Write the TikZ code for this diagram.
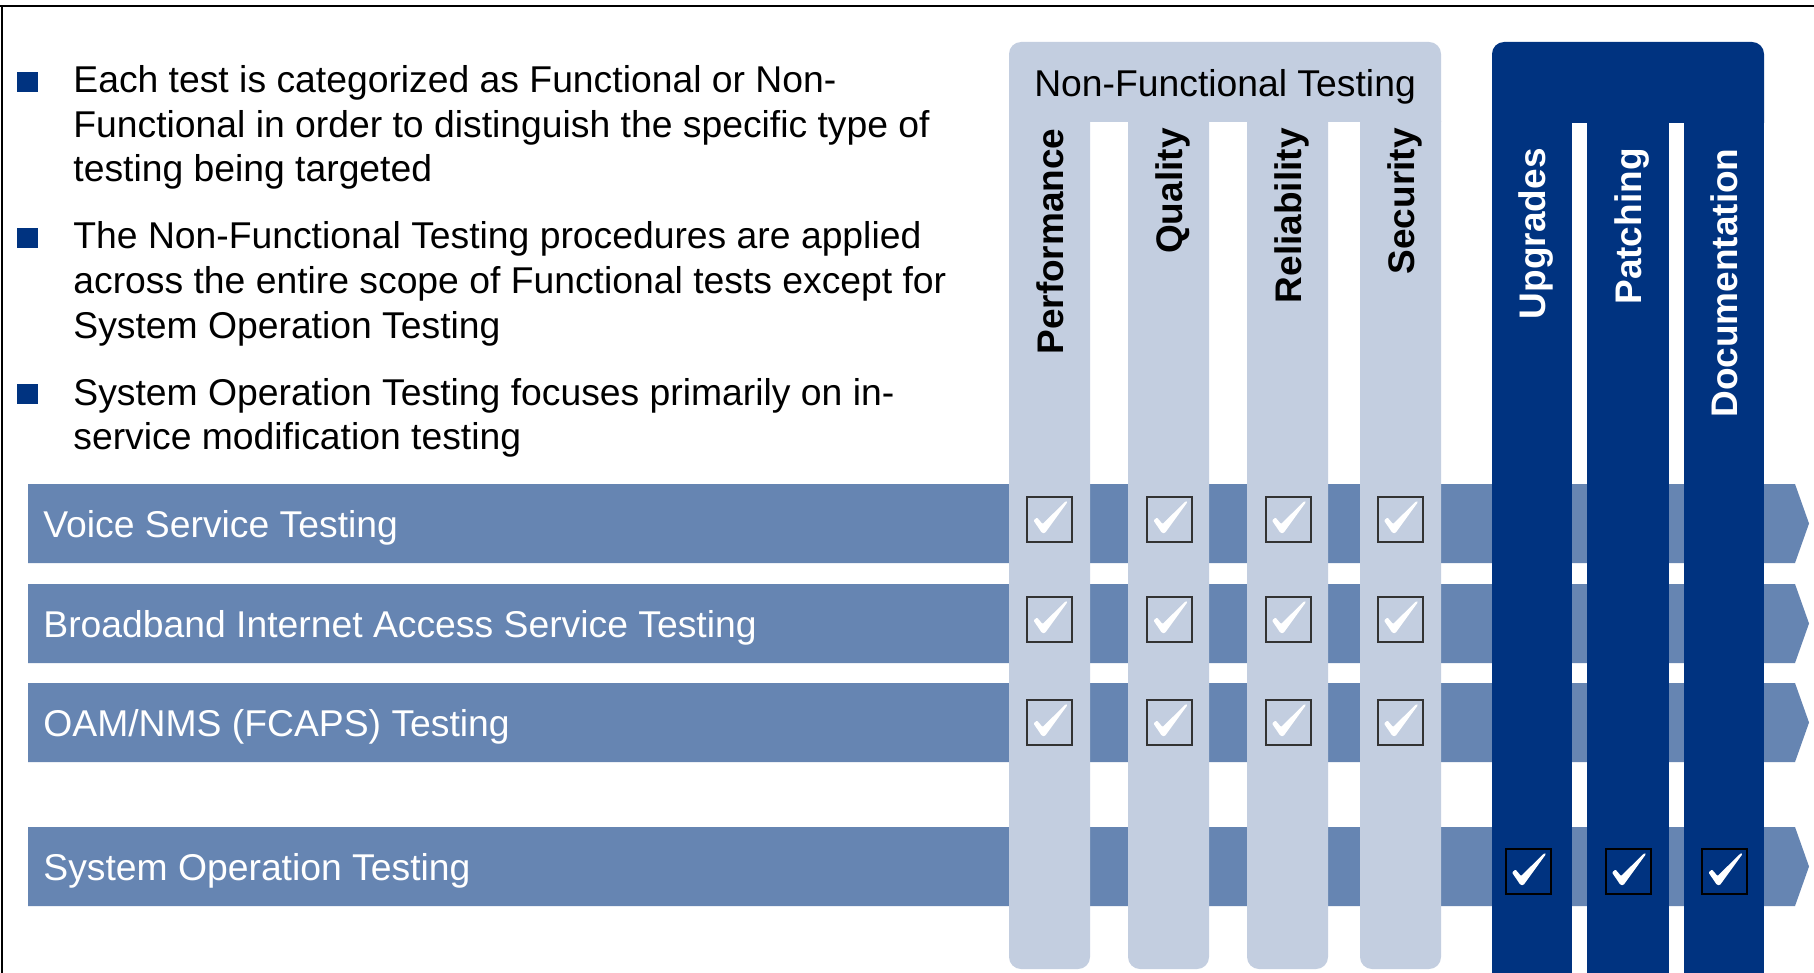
\documentclass[tikz,border=0pt]{standalone}
\usepackage{fontspec}
\setmainfont{Liberation Sans}
\definecolor{barblue}{RGB}{102,133,178}
\definecolor{paleblue}{RGB}{195,206,224}
\definecolor{navy}{RGB}{0,51,128}
\tikzset{
  txt/.style={inner sep=0pt, font=\fontsize{18.65}{22}\selectfont},
  bullettext/.style={txt, anchor=base west, text=black},
  bartext/.style={txt, anchor=base west, text=white},
  collabel/.style={inner sep=0pt, anchor=base east, rotate=90,
    font=\bfseries\fontsize{18.5}{22}\selectfont},
  bulletsq/.style={fill=navy},
  stripe/.style={fill=barblue},
  pics/tick/.style={code={
    \draw[line width=1pt, draw=#1] (-22.5,-22.5) rectangle (22.5,22.5);
    \fill[white, rounded corners=0.5pt]
      (-16,1.5) -- (-12.5,-1.5) -- (-7,5) -- (16.5,-18) -- (18,-17)
      -- (-4.5,14) -- (-7.5,14) -- cycle;
  }},
  pics/tick/.default=black!80
}
\begin{document}
\begin{tikzpicture}[x=0.5pt, y=-0.5pt]
\useasboundingbox (0,0) rectangle (1814,973);
\clip (0,0) rectangle (1814,973);
\fill[white] (0,0) rectangle (1814,973);

% frame edges
\draw[line width=1pt, black] (0,6) -- (1814,6);
\draw[line width=1pt, black] (1.5,6) -- (1.5,973);

% bulleted notes
\foreach \b in {93,249,405}
  \fill[bulletsq] (17,\b-21) rectangle (38,\b-1);
\node[bullettext] (n1a) at (73,93)  {Each test is categorized as Functional or Non-};
\node[bullettext] (n1b) at (73,137.5) {Functional in order to distinguish the specific type of};
\node[bullettext] (n1c) at (73,182) {testing being targeted};
\node[bullettext] (n2a) at (73,249) {The Non-Functional Testing procedures are applied};
\node[bullettext] (n2b) at (73,293.5) {across the entire scope of Functional tests except for};
\node[bullettext] (n2c) at (73,338) {System Operation Testing};
\node[bullettext] (n3a) at (73,405) {System Operation Testing focuses primarily on in-};
\node[bullettext] (n3b) at (73,449.5) {service modification testing};

% functional test stripes (arrow shaped)
\foreach \t/\bt in {484/563, 584/663, 683/762, 827/906}
  \fill[stripe] (28,\t) -- (1795,\t) -- (1809,{(\t+\bt)/2}) -- (1795,\bt) -- (28,\bt) -- cycle;

% non-functional columns
\fill[paleblue] (1009,122) [rounded corners=6] -- (1009,42) -- (1441,42)
  [sharp corners] -- (1441,122) -- cycle;
\foreach \l/\r in {1009/1090, 1128/1209, 1247/1328, 1360/1441}
  \fill[paleblue] (\l,121) [rounded corners=6] -- (\l,969) -- (\r,969)
    [sharp corners] -- (\r,121) -- cycle;
\node[txt, anchor=base] (nft) at (1225,97) {Non-Functional Testing};
\node[collabel] (perf) at (1063,128) {Performance};
\node[collabel] (qual) at (1182,128) {Quality};
\node[collabel] (reli) at (1301,128) {Reliability};
\node[collabel] (secu) at (1414,128) {Security};

% system operation columns
\fill[navy] (1492,123) [rounded corners=6] -- (1492,42) -- (1764,42)
  [sharp corners] -- (1764,123) -- cycle;
\foreach \l/\r in {1492/1572, 1587/1669, 1684/1764}
  \fill[navy] (\l,122) rectangle (\r,980);
\node[collabel, text=white] (upgr) at (1545.5,148) {Upgrades};
\node[collabel, text=white] (patc) at (1641.5,148) {Patching};
\node[collabel, text=white] (docu) at (1737.5,148) {Documentation};

% stripe labels
\node[bartext] (voice) at (43,537) {Voice Service Testing};
\node[bartext] (bband) at (43,637) {Broadband Internet Access Service Testing};
\node[bartext] (oam)   at (43,736) {OAM/NMS (FCAPS) Testing};
\node[bartext] (sysop) at (43,880) {System Operation Testing};

% check marks
\foreach \y in {519,619,722}
  \foreach \x in {1049.5,1169.5,1288,1400}
    \pic at (\x,\y) {tick};
\foreach \x in {1528,1628,1724.5}
  \pic at (\x,871) {tick=black};
\end{tikzpicture}
\end{document}
